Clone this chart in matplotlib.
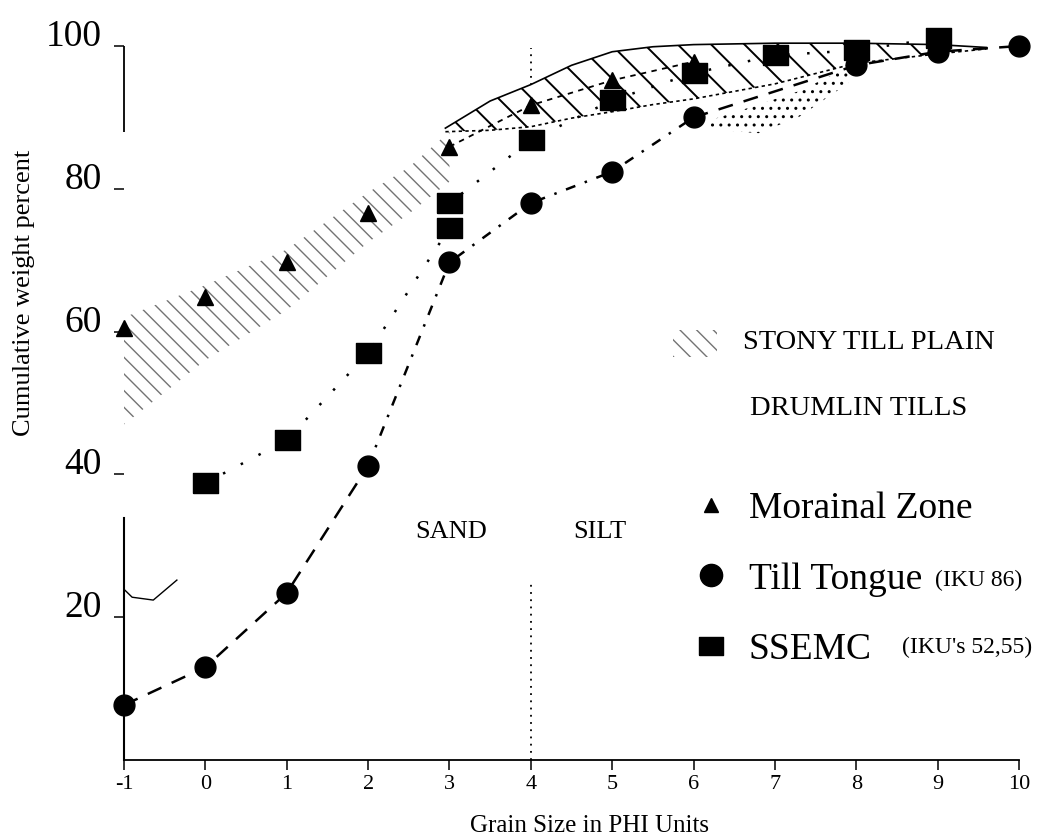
import numpy as np
import matplotlib.pyplot as plt
from matplotlib.lines import Line2D
from matplotlib.patches import Rectangle

plt.rcParams['font.family'] = ['Liberation Serif', 'DejaVu Serif']

# grain size (phi) vs cumulative weight percent
moraine_x = [-1, 0, 1, 2, 3, 4, 5, 6]
moraine_y = [60.5, 64.8, 69.8, 76.6, 85.9, 91.7, 95.2, 97.8]

tongue_x = [-1, 0, 1, 2, 3, 4, 5, 6, 8, 9, 10]
tongue_y = [7.7, 13.0, 23.4, 41.2, 69.7, 78.0, 82.4, 90.0, 97.3, 99.2, 100.0]

ssemc_x = [0, 1, 2, 3, 3, 4, 5, 6, 7, 8, 9]
ssemc_y = [38.8, 44.8, 57.0, 74.5, 78.0, 86.8, 92.4, 96.2, 98.7, 99.4, 101.1]

# envelopes
stony_x = [-1, 0, 1, 2, 2.5, 3]
stony_lo = [47, 56, 63, 72.5, 76.5, 81]
stony_hi = [62, 66.5, 71.5, 79.5, 83, 88]

drumlin_x = [2.95, 3.5, 4, 4.5, 5, 5.5, 6, 7, 8, 9, 9.6]
drumlin_lo = [88.0, 88.2, 88.7, 89.9, 90.8, 91.8, 92.6, 94.7, 97.6, 98.9, 99.6]
drumlin_hi = [88.5, 92.3, 94.6, 97.3, 99.2, 99.9, 100.2, 100.4, 100.4, 100.2, 99.8]

silt_x = [6.2, 6.8, 7.3, 7.9]
silt_lo = [88.3, 87.8, 90.1, 94.8]
silt_hi = [89.6, 91.8, 93.7, 97.0]

# stray pen mark near the axis in the original
hook_x = [-0.99, -0.9, -0.64, -0.35]
hook_y = [23.8, 22.8, 22.4, 25.2]

phi_ticks = list(range(-1, 11))
pct_ticks = [20, 40, 60, 80, 100]

fig = plt.figure(figsize=(10.61, 8.39), dpi=100)
ax = fig.add_axes([124 / 1061, 79 / 839, 919.4 / 1061, 756.8 / 839])
ax.set_xlim(-1, 10.3)
ax.set_ylim(0, 106)

# hatched envelopes
plt.rcParams['hatch.linewidth'] = 1.0
ax.fill_between(stony_x, stony_lo, stony_hi, facecolor='none', edgecolor='0.45',
                hatch='\\\\', linewidth=0)
plt.rcParams['hatch.linewidth'] = 1.4
ax.fill_between(drumlin_x, drumlin_lo, drumlin_hi, facecolor='none', edgecolor='k',
                hatch='\\', linewidth=0)
ax.plot(drumlin_x, drumlin_hi, color='k', lw=1.2)
ax.plot(drumlin_x, drumlin_lo, color='k', lw=1.2, ls=(0, (2, 2)))
plt.rcParams['hatch.linewidth'] = 1.0
ax.fill_between(silt_x, silt_lo, silt_hi, facecolor='none', edgecolor='k',
                hatch='..', linewidth=0)

# phi 4 guide line
ax.vlines([4, 4], [0, 94.5], [25.2, 99.7], colors='k', lw=1.3, linestyles=(0, (1, 3)))

# curves
dash = (0, (6, 4.5))
ax.plot(tongue_x[:4], tongue_y[:4], color='k', lw=1.8, ls=dash)
ax.plot(tongue_x[3:8], tongue_y[3:8], color='k', lw=1.8, ls=(0, (4, 4, 1, 4)))
ax.plot(tongue_x[7:], tongue_y[7:], color='k', lw=1.8, ls=dash)
ax.plot(ssemc_x, ssemc_y, color='k', lw=1.8, ls=(0, (1, 7)))
ax.plot(moraine_x[4:], moraine_y[4:], color='k', lw=1.3, ls=(0, (3, 3)))

rect = [(-1.3, -1), (1.3, -1), (1.3, 1), (-1.3, 1), (-1.3, -1)]
ax.plot(tongue_x, tongue_y, ls='none', marker='o', ms=15, color='k', clip_on=False, zorder=5)
ax.plot(ssemc_x, ssemc_y, ls='none', marker=rect, ms=18, color='k', clip_on=False, zorder=5)
ax.plot(moraine_x, moraine_y, ls='none', marker='^', ms=11, color='k', clip_on=False, zorder=5)

ax.plot(hook_x, hook_y, color='k', lw=1.0, clip_on=False)

# axes styling
for s in ['top', 'right']:
    ax.spines[s].set_visible(False)
ax.spines['bottom'].set_bounds(-1, 10)
ax.spines['left'].set_bounds(0, 33.9)
ax.spines['left'].set_linewidth(1.5)
ax.spines['bottom'].set_linewidth(1.3)
ax.vlines([-1], [88], [100], colors='k', lw=1.3, clip_on=False)

ax.set_xticks(phi_ticks)
ax.set_xticklabels([str(t) for t in phi_ticks])
ax.set_yticks(pct_ticks)
ax.set_yticklabels([str(t) for t in pct_ticks])
ax.tick_params(axis='x', direction='out', length=7, width=1.1, labelsize=16, pad=4)
ax.tick_params(axis='y', direction='out', length=7, width=1.1, labelsize=27, pad=9)
for lab in ax.get_yticklabels():
    lab.set_verticalalignment('baseline')

ax.set_xlabel('Grain Size in PHI Units', fontsize=18)
ax.xaxis.set_label_coords(0.506, -0.0727)
ax.set_ylabel('Cumulative weight percent', fontsize=19)
ax.yaxis.set_label_coords(-0.097, 0.617)

# legend-like annotations
ax.add_patch(Rectangle((5.75, 56.4), 0.54, 3.8, facecolor='none', edgecolor='0.45',
                       hatch='\\\\', linewidth=0))
ax.text(6.61, 58.5, 'STONY TILL PLAIN', fontsize=20.5, va='center')
ax.text(6.69, 49.3, 'DRUMLIN TILLS', fontsize=20.5, va='center')
ax.text(2.58, 31.9, 'SAND', fontsize=19, va='center')
ax.text(4.52, 31.9, 'SILT', fontsize=19, va='center')

handles = [
    Line2D([], [], ls='none', marker='^', ms=10, color='k', label='Morainal Zone'),
    Line2D([], [], ls='none', marker='o', ms=16, color='k', label='Till Tongue'),
    Line2D([], [], ls='none', marker=rect, ms=17, color='k', label='SSEMC'),
]
ax.legend(handles=handles, loc='upper left', bbox_to_anchor=(0.598, 0.379),
          frameon=False, fontsize=27, handlelength=1.0, handletextpad=0.5,
          labelspacing=0.95, borderpad=0)
ax.text(8.97, 25.1, '(IKU 86)', fontsize=17, va='center')
ax.text(8.56, 15.8, "(IKU's 52,55)", fontsize=17, va='center')

fig.savefig('out.png', dpi=100)
